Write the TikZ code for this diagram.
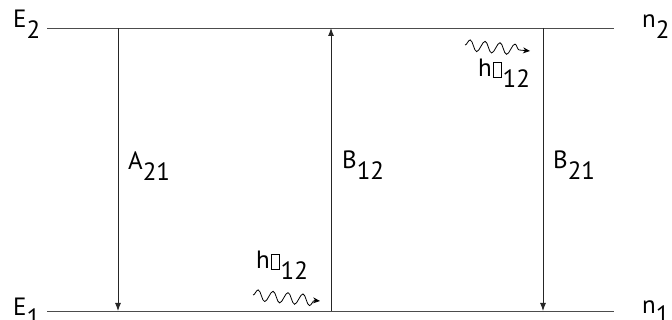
\documentclass[tikz,border=0pt]{standalone}
\usepackage{fontspec}
\setmainfont{PT Sans}
\usetikzlibrary{arrows.meta,decorations.pathmorphing}
\newcommand\lowsub[1]{\raisebox{-10.5pt}{#1}}
\newcommand\tofubox{{\setlength\fboxsep{0pt}\setlength\fboxrule{0.9pt}\kern1pt\fbox{\rule{0pt}{14pt}\rule{7pt}{0pt}}\kern1pt}}
\begin{document}
\begin{tikzpicture}[x=1pt,y=-1pt,
  lvl/.style={line width=0.9pt, draw=black!70},
  trans/.style={line width=0.9pt, draw=black!85, -{Latex[length=8pt,width=6pt]}},
  lab/.style={anchor=base west, inner sep=0pt, font=\fontsize{25}{29}\selectfont},
  photon/.style={line width=0.8pt, draw=black, -{Stealth[length=7pt,width=6pt]},
    decorate, decoration={snake, amplitude=5.5pt, segment length=15pt, post length=4pt}}]
\useasboundingbox (0,0) rectangle (672,320);
% level labels
\node[lab] (E2) at (13,28) {E\lowsub{2}};
\node[lab] (n2) at (642,28) {n\lowsub{2}};
\node[lab] (E1) at (13,316) {E\lowsub{1}};
\node[lab] (n1) at (642,313) {n\lowsub{1}};
% level lines
\coordinate (T0) at (47,28);  \coordinate (T1) at (614,28);
\coordinate (B0) at (47,311); \coordinate (B1) at (614,311);
\draw[lvl] (T0) -- (T1);
\draw[lvl] (B0) -- (B1);
% transitions
\coordinate (a1) at (118,28);  \coordinate (a2) at (118,311);
\coordinate (b1) at (331,311); \coordinate (b2) at (331,28);
\coordinate (c1) at (543,28);  \coordinate (c2) at (543,311);
\draw[trans] (a1) -- (a2);
\draw[trans] (b1) -- (b2);
\draw[trans] (c1) -- (c2);
\node[lab] (A21) at (128,170) {A\lowsub{21}};
\node[lab] (B12) at (342,169) {B\lowsub{12}};
\node[lab] (B21) at (553,169) {B\lowsub{21}};
% photons
\coordinate (p1s) at (465,45); \coordinate (p1e) at (530,51);
\draw[photon] (p1s) -- (p1e);
\node[lab] (h1) at (478,77) {h\tofubox\lowsub{12}};
\coordinate (p2s) at (253,295); \coordinate (p2e) at (320,301);
\draw[photon] (p2s) -- (p2e);
\node[lab] (h2) at (256,269) {h\tofubox\lowsub{12}};
\end{tikzpicture}
\end{document}
